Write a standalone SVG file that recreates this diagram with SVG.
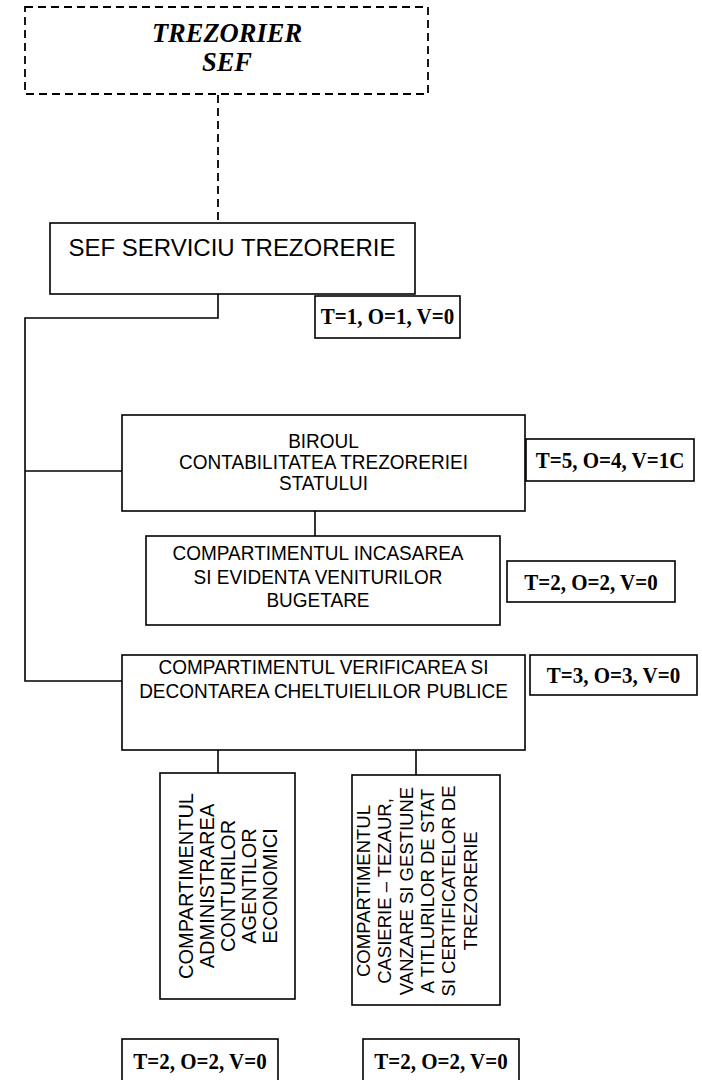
<svg xmlns="http://www.w3.org/2000/svg" width="702" height="1080" viewBox="0 0 702 1080">
<style>
.box{fill:#fff;stroke:#000;stroke-width:1.6}
.dash{fill:#fff;stroke:#000;stroke-width:1.8;stroke-dasharray:8 5}
.ln{fill:none;stroke:#000;stroke-width:1.6}
.lnd{fill:none;stroke:#000;stroke-width:1.8;stroke-dasharray:8 5}
.sans{font-family:"Liberation Sans",Arial,sans-serif;font-size:19px;fill:#000;text-anchor:middle}
.ser{font-family:"Liberation Serif","Times New Roman",serif;font-weight:bold;font-size:21px;fill:#000;text-anchor:middle}
.title{font-family:"Liberation Serif","Times New Roman",serif;font-weight:bold;font-style:italic;font-size:26.5px;fill:#000;text-anchor:middle}
.vt{font-family:"Liberation Sans",Arial,sans-serif;font-size:20px;fill:#000;text-anchor:middle}
.vt2{font-family:"Liberation Sans",Arial,sans-serif;font-size:18.5px;fill:#000;text-anchor:middle}
</style>
<g id="connectors">
<path class="lnd" d="M218,95 V223"/>
<path class="ln" d="M218,294 V318 H25 V681 H122"/>
<path class="ln" d="M25,471 H122"/>
<path class="ln" d="M315,511 V536"/>
<path class="ln" d="M218,750 V773"/>
<path class="ln" d="M416,750 V775"/>
</g>
<g id="trezorier-sef">
<rect class="dash" x="25" y="7" width="403" height="87"/>
<text class="title" x="227" y="42">TREZORIER</text>
<text class="title" x="227" y="71">SEF</text>
</g>
<g id="sef-serviciu">
<rect class="box" x="50" y="223" width="365" height="71"/>
<text class="sans" x="232" y="256" style="font-size:24px" textLength="327" lengthAdjust="spacingAndGlyphs">SEF SERVICIU TREZORERIE</text>
</g>
<g id="t1">
<rect class="box" x="315" y="296" width="145" height="42"/>
<text class="ser" transform="translate(387.5,324) scale(1,1.12)">T=1, O=1, V=0</text>
</g>
<g id="biroul">
<rect class="box" x="122" y="415" width="403" height="96"/>
<text class="sans" transform="translate(323.5,448) scale(1,1.1)">BIROUL</text>
<text class="sans" transform="translate(323.5,469) scale(1,1.1)">CONTABILITATEA TREZORERIEI</text>
<text class="sans" transform="translate(323.5,490) scale(1,1.1)">STATULUI</text>
</g>
<g id="t5">
<rect class="box" x="526" y="439" width="168" height="42"/>
<text class="ser" transform="translate(610,468) scale(1,1.12)">T=5, O=4, V=1C</text>
</g>
<g id="incasarea">
<rect class="box" x="146" y="536" width="354" height="89"/>
<text class="sans" transform="translate(318,560) scale(1,1.1)">COMPARTIMENTUL INCASAREA</text>
<text class="sans" transform="translate(318,584) scale(1,1.1)">SI EVIDENTA VENITURILOR</text>
<text class="sans" transform="translate(318,607) scale(1,1.1)">BUGETARE</text>
</g>
<g id="t2a">
<rect class="box" x="507" y="561" width="168" height="41"/>
<text class="ser" transform="translate(591,590) scale(1,1.12)">T=2, O=2, V=0</text>
</g>
<g id="verificarea">
<rect class="box" x="122" y="655" width="403" height="95"/>
<text class="sans" transform="translate(323.5,674) scale(1,1.1)">COMPARTIMENTUL VERIFICAREA SI</text>
<text class="sans" transform="translate(323.5,698) scale(1,1.1)">DECONTAREA CHELTUIELILOR PUBLICE</text>
</g>
<g id="t3">
<rect class="box" x="530" y="655" width="167" height="40"/>
<text class="ser" transform="translate(613.5,683) scale(1,1.12)">T=3, O=3, V=0</text>
</g>
<g id="administrarea">
<rect class="box" x="160" y="773" width="135" height="226"/>
<text class="vt" transform="translate(193,886) rotate(-90)">COMPARTIMENTUL</text>
<text class="vt" transform="translate(214,886) rotate(-90)">ADMINISTRAREA</text>
<text class="vt" transform="translate(235,886) rotate(-90)">CONTURILOR</text>
<text class="vt" transform="translate(256,886) rotate(-90)">AGENTILOR</text>
<text class="vt" transform="translate(277,886) rotate(-90)">ECONOMICI</text>
</g>
<g id="casierie">
<rect class="box" x="352" y="775" width="148" height="230"/>
<text class="vt2" transform="translate(370,891) rotate(-90)">COMPARTIMENTUL</text>
<text class="vt2" transform="translate(391,891) rotate(-90)">CASIERIE – TEZAUR,</text>
<text class="vt2" transform="translate(413,891) rotate(-90)">VANZARE SI GESTIUNE</text>
<text class="vt2" transform="translate(434,891) rotate(-90)">A TITLURILOR DE STAT</text>
<text class="vt2" transform="translate(455,891) rotate(-90)">SI CERTIFICATELOR DE</text>
<text class="vt2" transform="translate(477,891) rotate(-90)">TREZORERIE</text>
</g>
<g id="t2b">
<rect class="box" x="122" y="1039" width="156" height="50"/>
<text class="ser" transform="translate(200,1069) scale(1,1.12)">T=2, O=2, V=0</text>
</g>
<g id="t2c">
<rect class="box" x="363" y="1039" width="156" height="50"/>
<text class="ser" transform="translate(441,1069) scale(1,1.12)">T=2, O=2, V=0</text>
</g>
</svg>
